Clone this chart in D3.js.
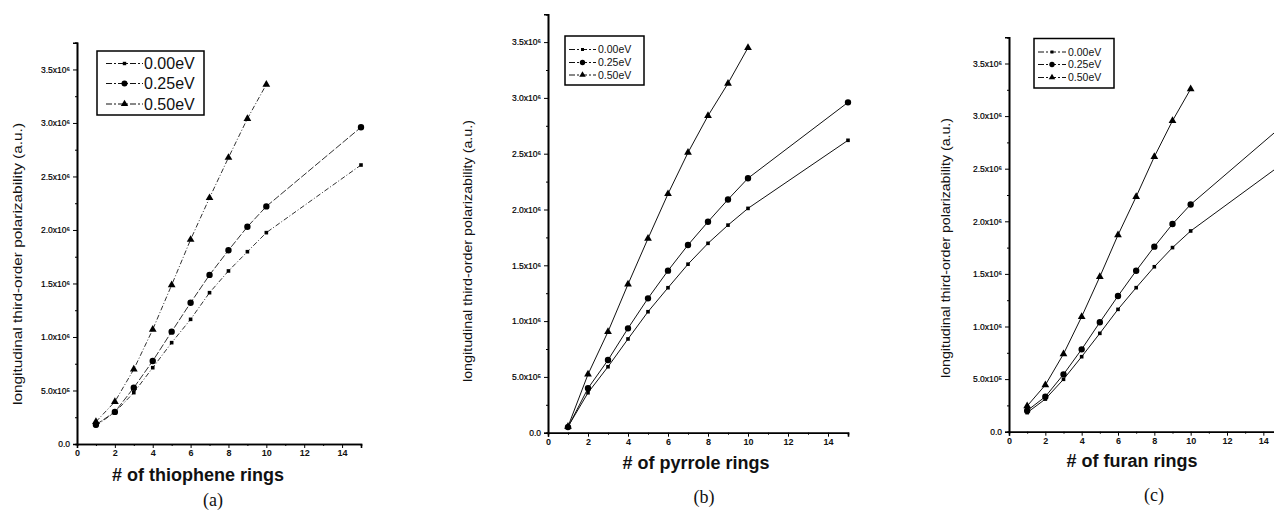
<!DOCTYPE html>
<html><head><meta charset="utf-8">
<script src="https://cdn.jsdelivr.net/npm/d3@7/dist/d3.min.js"></script>
<style>body{margin:0;background:#fff}svg{display:block}</style>
</head><body>
<svg id="c" width="1274" height="514"></svg>
<script>
// values in units of 1e5 a.u.
const rings = [1,2,3,4,5,6,7,8,9,10,15];
const rings10 = [1,2,3,4,5,6,7,8,9,10];
const seriesNames = ["0.00eV","0.25eV","0.50eV"];
const xTicks = [0,2,4,6,8,10,12,14];
const yTicks = [0,5,10,15,20,25,30,35];

const thio000 = [1.72,2.96,4.80,7.13,9.47,11.65,14.14,16.17,17.97,19.75,26.07];
const thio025 = [1.80,3.00,5.26,7.76,10.50,13.20,15.80,18.10,20.30,22.20,29.60];
const thio050 = [2.08,3.95,6.98,10.70,14.86,19.10,23.00,26.76,30.40,33.60];

const pyr000 = [0.54,3.58,5.91,8.40,10.84,12.99,15.10,16.97,18.60,20.10,26.20];
const pyr025 = [0.50,3.98,6.51,9.35,12.04,14.52,16.82,18.90,20.90,22.80,29.60];
const pyr050 = [0.55,5.23,9.05,13.30,17.40,21.40,25.10,28.40,31.30,34.50];

const fur000 = [1.81,3.10,4.98,7.13,9.35,11.63,13.69,15.68,17.50,19.08,25.40];
const fur025 = [2.00,3.33,5.45,7.83,10.40,12.90,15.30,17.59,19.74,21.60,29.00];
const fur050 = [2.44,4.44,7.39,10.93,14.73,18.70,22.34,26.14,29.56,32.58];

const panels = [
  {xr:[77,361], yr:[444,42.7], s:[thio000,thio025,thio050], xs:[rings,rings,rings10],
   xtitle:"# of thiophene rings", xtx:198, xty:481, cap:"(a)", capx:213, capy:506,
   ylx:22, yly:264, yllen:282, ylfs:13.5,
   leg:{x0:97,y0:51,x1:204,y1:115, rows:[63.5,83.5,104], sx0:106, sx1:143, tx:144, fs:16},
   dash:"5,2,1,2", tfs:9},
  {xr:[548,848], yr:[432.7,14.2], s:[pyr000,pyr025,pyr050], xs:[rings,rings,rings10],
   xtitle:"# of pyrrole rings", xtx:696, xty:469, cap:"(b)", capx:704, capy:503,
   ylx:472, yly:251, yllen:262, ylfs:12.5,
   leg:{x0:565,y0:36,x1:644,y1:85, rows:[49.5,62.5,75], sx0:569, sx1:596, tx:598, fs:10.5},
   dash:null, tfs:9},
  {xr:[1009,1281.5], yr:[431.7,37.2], s:[fur000,fur025,fur050], xs:[rings,rings,rings10],
   xtitle:"# of furan rings", xtx:1132, xty:467, cap:"(c)", capx:1154, capy:501,
   ylx:950, yly:248, yllen:260, ylfs:12.5,
   leg:{x0:1034,y0:38.5,x1:1114,y1:88, rows:[52,64.5,77.5], sx0:1038, sx1:1066, tx:1068, fs:10.5},
   dash:null, tfs:9}
];

const svg = d3.select("#c");
const fmt = v => v===0 ? "0.0" : (v<10 ? v.toFixed(1)+"x10\u2075" : (v/10).toFixed(1)+"x10\u2076");
const sym = [d3.symbolSquare, d3.symbolCircle, d3.symbolTriangle];
const symSize = [13, 32, 26];

panels.forEach(p => {
  const g = svg.append("g");
  const x = d3.scaleLinear().domain([0,15]).range(p.xr);
  const y = d3.scaleLinear().domain([0,37.5]).range(p.yr);

  // axes
  const xa = g.append("g").attr("transform",`translate(0,${p.yr[0]})`)
    .call(d3.axisBottom(x).tickValues(xTicks).tickSize(4).tickFormat(d3.format("d")));
  g.append("g").attr("transform",`translate(0,${p.yr[0]})`)
    .call(d3.axisBottom(x).tickValues(d3.range(1,16,2)).tickSize(2).tickFormat(""));
  const ya = g.append("g").attr("transform",`translate(${p.xr[0]},0)`)
    .call(d3.axisLeft(y).tickValues(yTicks).tickSize(4).tickFormat(fmt));
  g.append("g").attr("transform",`translate(${p.xr[0]},0)`)
    .call(d3.axisLeft(y).tickValues(d3.range(2.5,37.6,5)).tickSize(2).tickFormat(""));
  g.selectAll(".domain").attr("stroke","#000").attr("stroke-width",1.6);
  g.selectAll(".tick line").attr("stroke","#000").attr("stroke-width",1);
  xa.selectAll("text").attr("font-family","Liberation Sans, Arial, sans-serif")
    .attr("font-size",p.tfs).attr("font-weight","bold").attr("dy","0.6em").attr("fill","#111");
  ya.selectAll("text").attr("font-family","Liberation Sans, Arial, sans-serif")
    .attr("font-size",p.tfs-0.5).attr("fill","#000").attr("stroke","#000").attr("stroke-width",0.2);

  // series
  p.s.forEach((vals,i) => {
    const pts = vals.map((v,k)=>[p.xs[i][k], v]);
    const line = d3.line().x(d=>x(d[0])).y(d=>y(d[1]));
    g.append("path").datum(pts).attr("d",line).attr("fill","none")
      .attr("stroke", p.dash ? "#333" : "#111").attr("stroke-width",1)
      .attr("stroke-dasharray", p.dash && i!==1 ? p.dash : (p.dash ? "7,2" : null));
    g.selectAll(null).data(pts).enter().append("path")
      .attr("transform",d=>`translate(${x(d[0])},${y(d[1])})`)
      .attr("d", d3.symbol().type(sym[i]).size(symSize[i])).attr("fill","#000");
  });

  // legend
  const L = p.leg;
  g.append("rect").attr("x",L.x0).attr("y",L.y0).attr("width",L.x1-L.x0).attr("height",L.y1-L.y0)
    .attr("fill","#fff").attr("stroke","#000").attr("stroke-width",1.5);
  seriesNames.forEach((n,i)=>{
    const yy = L.rows[i];
    g.append("line").attr("x1",L.sx0).attr("x2",L.sx1).attr("y1",yy).attr("y2",yy)
      .attr("stroke","#111").attr("stroke-width",1).attr("stroke-dasharray","6,2,2,2");
    g.append("path").attr("transform",`translate(${(L.sx0+L.sx1)/2},${yy})`)
      .attr("d", d3.symbol().type(sym[i]).size(symSize[i]*(p===panels[0]?0.9:0.7))).attr("fill","#000");
    g.append("text").attr("x",L.tx).attr("y",yy).attr("dy","0.36em").text(n)
      .attr("font-family","Liberation Sans, Arial, sans-serif").attr("font-size",L.fs).attr("fill","#111");
  });

  // titles
  g.append("text").attr("transform",`translate(${p.ylx},${p.yly}) rotate(-90)`)
    .attr("text-anchor","middle").attr("textLength",p.yllen).attr("lengthAdjust","spacingAndGlyphs")
    .attr("font-family","Liberation Sans, Arial, sans-serif").attr("font-size",p.ylfs).attr("fill","#111")
    .text("longitudinal third-order polarizability (a.u.)");
  g.append("text").attr("x",p.xtx).attr("y",p.xty).attr("text-anchor","middle")
    .attr("font-family","Liberation Sans, Arial, sans-serif").attr("font-size",18).attr("font-weight","bold")
    .attr("fill","#111").text(p.xtitle);
  g.append("text").attr("x",p.capx).attr("y",p.capy).attr("text-anchor","middle")
    .attr("font-family","Liberation Serif, Times New Roman, serif").attr("font-size",18)
    .attr("fill","#111").text(p.cap);
});
</script>
</body></html>
